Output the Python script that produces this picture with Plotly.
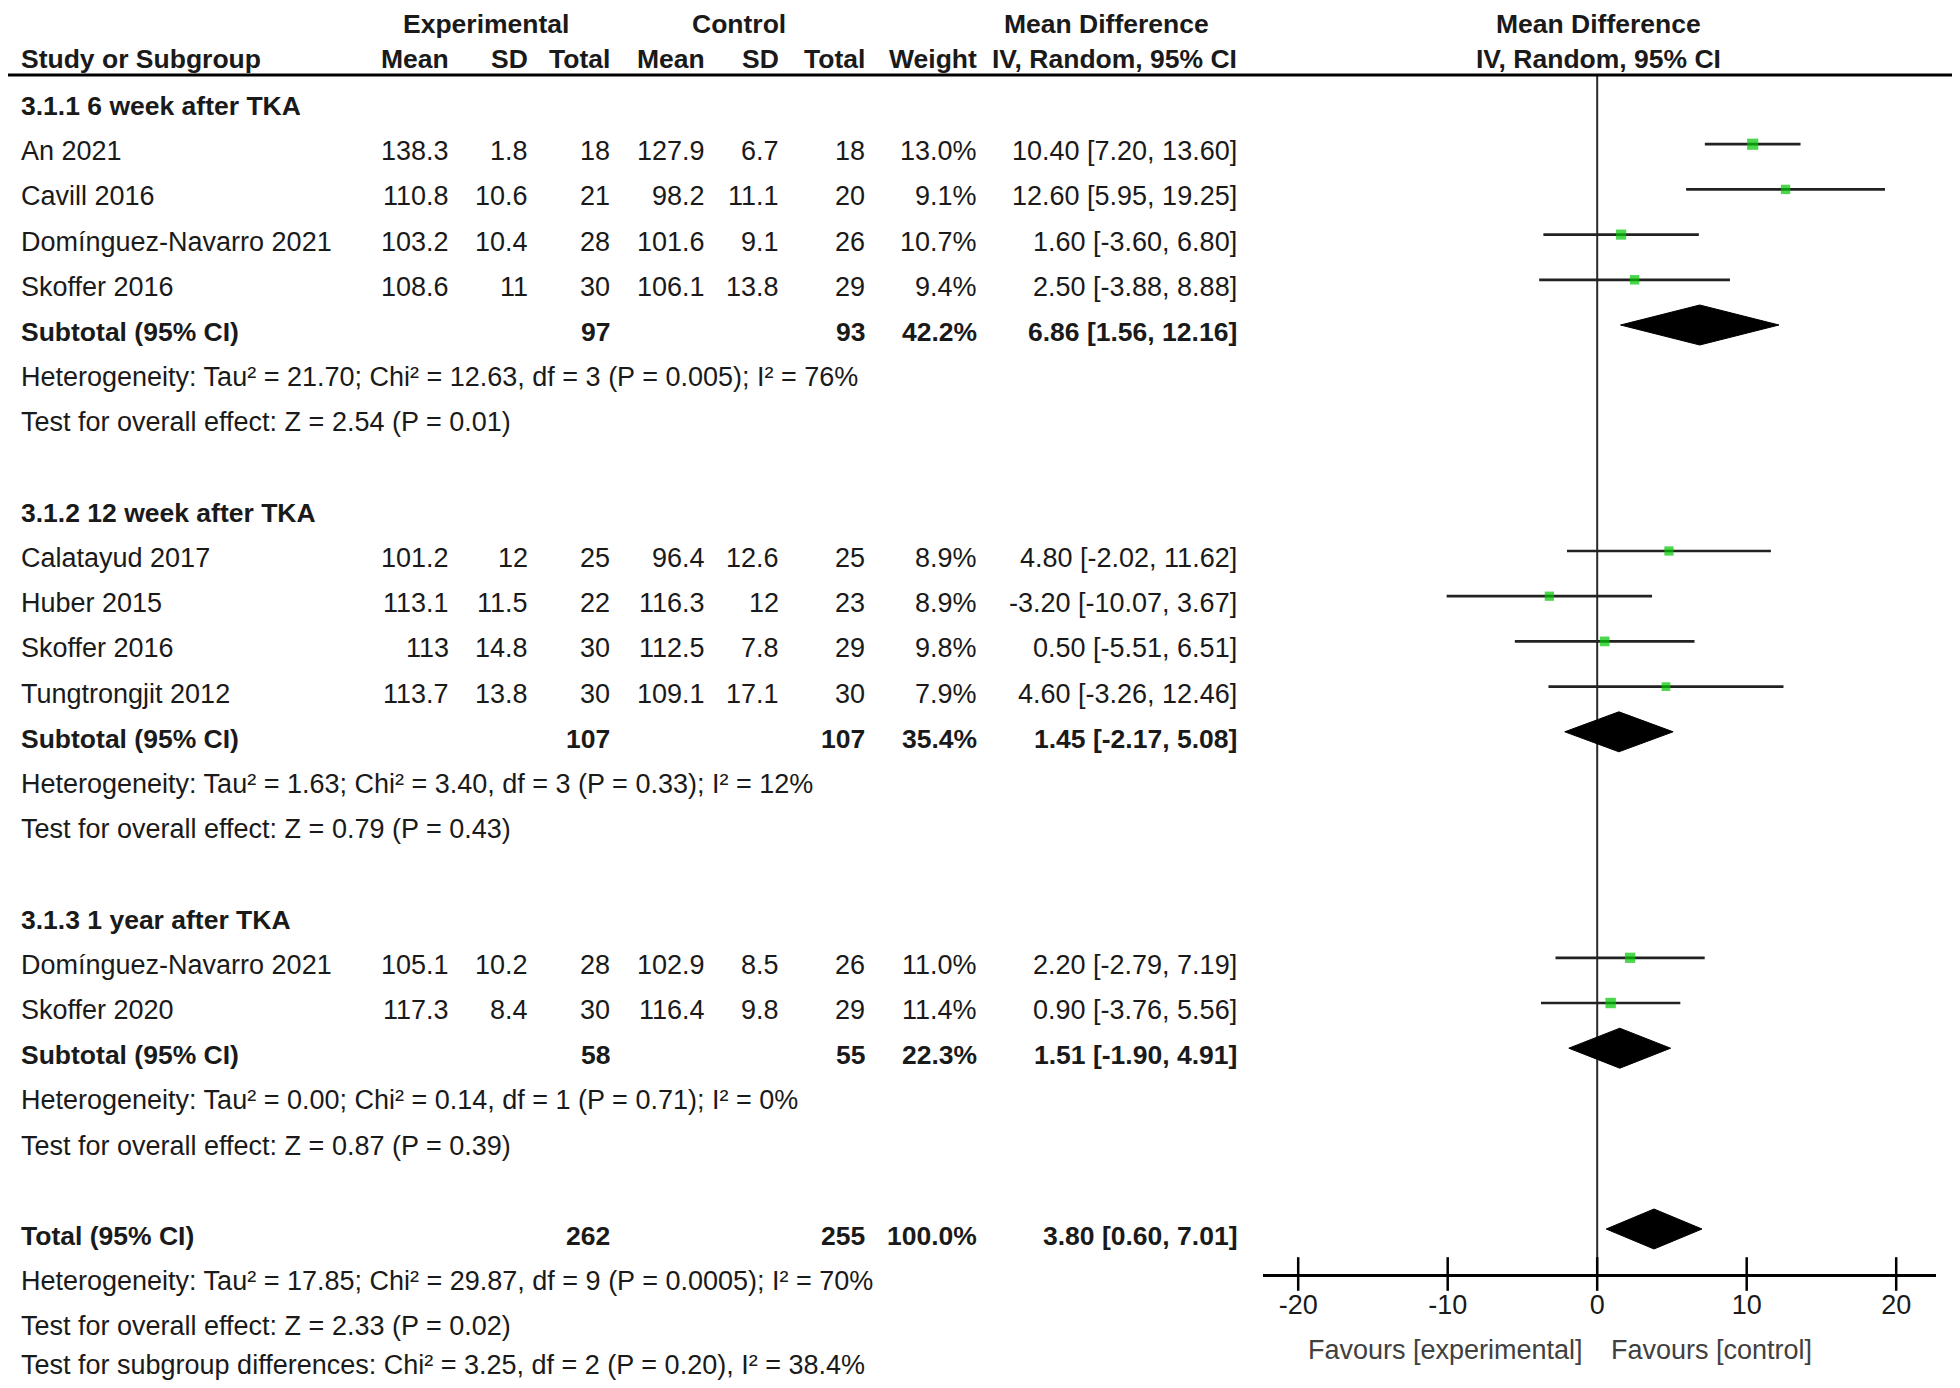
import math
import plotly.graph_objects as go

# ---------------- data ----------------
group_titles = ["3.1.1 6 week after TKA", "3.1.2 12 week after TKA", "3.1.3 1 year after TKA"]
study_names = [
    ["An 2021", "Cavill 2016", "Domínguez-Navarro 2021", "Skoffer 2016"],
    ["Calatayud 2017", "Huber 2015", "Skoffer 2016", "Tungtrongjit 2012"],
    ["Domínguez-Navarro 2021", "Skoffer 2020"],
]
exp_mean = [[138.3, 110.8, 103.2, 108.6], [101.2, 113.1, 113, 113.7], [105.1, 117.3]]
exp_sd = [[1.8, 10.6, 10.4, 11], [12, 11.5, 14.8, 13.8], [10.2, 8.4]]
exp_n = [[18, 21, 28, 30], [25, 22, 30, 30], [28, 30]]
ctl_mean = [[127.9, 98.2, 101.6, 106.1], [96.4, 116.3, 112.5, 109.1], [102.9, 116.4]]
ctl_sd = [[6.7, 11.1, 9.1, 13.8], [12.6, 12, 7.8, 17.1], [8.5, 9.8]]
ctl_n = [[18, 20, 26, 29], [25, 23, 29, 30], [26, 29]]
weights = [[13.0, 9.1, 10.7, 9.4], [8.9, 8.9, 9.8, 7.9], [11.0, 11.4]]
md = [[10.40, 12.60, 1.60, 2.50], [4.80, -3.20, 0.50, 4.60], [2.20, 0.90]]
md_lo = [[7.20, 5.95, -3.60, -3.88], [-2.02, -10.07, -5.51, -3.26], [-2.79, -3.76]]
md_hi = [[13.60, 19.25, 6.80, 8.88], [11.62, 3.67, 6.51, 12.46], [7.19, 5.56]]

sub_exp_n = [97, 107, 58]
sub_ctl_n = [93, 107, 55]
sub_weight = [42.2, 35.4, 22.3]
sub_md = [6.86, 1.45, 1.51]
sub_lo = [1.56, -2.17, -1.90]
sub_hi = [12.16, 5.08, 4.91]
sub_het = [
    "Heterogeneity: Tau² = 21.70; Chi² = 12.63, df = 3 (P = 0.005); I² = 76%",
    "Heterogeneity: Tau² = 1.63; Chi² = 3.40, df = 3 (P = 0.33); I² = 12%",
    "Heterogeneity: Tau² = 0.00; Chi² = 0.14, df = 1 (P = 0.71); I² = 0%",
]
sub_test = [
    "Test for overall effect: Z = 2.54 (P = 0.01)",
    "Test for overall effect: Z = 0.79 (P = 0.43)",
    "Test for overall effect: Z = 0.87 (P = 0.39)",
]
tot_exp_n = 262
tot_ctl_n = 255
tot_weight = 100.0
tot_md, tot_lo, tot_hi = 3.80, 0.60, 7.01
tot_lines = [
    "Heterogeneity: Tau² = 17.85; Chi² = 29.87, df = 9 (P = 0.0005); I² = 70%",
    "Test for overall effect: Z = 2.33 (P = 0.02)",
    "Test for subgroup differences: Chi² = 3.25, df = 2 (P = 0.20), I² = 38.4%",
]
axis_ticks = [-20, -10, 0, 10, 20]
header_top = ["Experimental", "Control", "Mean Difference"]
header_cols = ["Mean", "SD", "Total", "Mean", "SD", "Total", "Weight", "IV, Random, 95% CI"]
favours = ["Favours [experimental]", "Favours [control]"]

# ---------------- layout constants (reference pixel coordinates) ----------------
W, H = 1960, 1388
OFF = 8                      # default page margin of the html body
FW, FH = W - 2 * OFF, H - 2 * OFF
FONT = "Liberation Sans, Arial, Helvetica, sans-serif"
FS = 27
FSB = 26.5
TXT = "#1a1a1a"
col_right = [450, 529, 611, 706, 780, 866, 978, 1238]
study_left = 20
ROW0, STEP = 106, 45.2
MARK_OFF = -7
AX_Y = 1274
TOP_LINE = 75
GREEN = "#00c800"
LAST_ROW_Y = 1365


def pxx(px):
    return (px - OFF) / FW


def pxy(py):
    return 1 - (py - OFF) / FH


def rowy(i):
    return ROW0 + STEP * i


def fmt(v):
    return f"{v:g}"


def ci_text(m, lo, hi):
    return f"{m:.2f} [{lo:.2f}, {hi:.2f}]"


annotations = []


def add_text(px, py, text, anchor="left", bold=False, size=None, color=TXT, yanchor="middle"):
    if bold:
        text = f"<b>{text}</b>"
    if size is None:
        size = FSB if bold else FS
    annotations.append(dict(
        x=pxx(px), y=pxy(py) if yanchor == "middle" else 1.0, xref="paper", yref="paper",
        text=text, showarrow=False, xanchor=anchor, yanchor=yanchor, borderpad=0,
        font=dict(family=FONT, size=size, color=color),
    ))


# headers
add_text(486, 0, header_top[0], "center", bold=True, yanchor="top")
add_text(739, 0, header_top[1], "center", bold=True, yanchor="top")
add_text(1106, 0, header_top[2], "center", bold=True, yanchor="top")
add_text(1598, 0, header_top[2], "center", bold=True, yanchor="top")
add_text(study_left, 59, "Study or Subgroup", bold=True)
for cx, t in zip(col_right, header_cols):
    add_text(cx, 59, t, "right", bold=True)
add_text(1598, 59, header_cols[-1], "center", bold=True)

ci_x, ci_y = [], []
sq_x, sq_y, sq_size = [], [], []
diamonds = []

i = 0
for g in range(len(group_titles)):
    add_text(study_left, rowy(i), group_titles[g], bold=True)
    i += 1
    for k in range(len(study_names[g])):
        y = rowy(i)
        vals = [fmt(exp_mean[g][k]), fmt(exp_sd[g][k]), str(exp_n[g][k]),
                fmt(ctl_mean[g][k]), fmt(ctl_sd[g][k]), str(ctl_n[g][k]),
                f"{weights[g][k]:.1f}%", ci_text(md[g][k], md_lo[g][k], md_hi[g][k])]
        add_text(study_left, y, study_names[g][k])
        for cx, t in zip(col_right, vals):
            add_text(cx, y, t, "right")
        ci_x += [md_lo[g][k], md_hi[g][k], None]
        ci_y += [y + MARK_OFF, y + MARK_OFF, None]
        sq_x.append(md[g][k])
        sq_y.append(y + MARK_OFF)
        sq_size.append(3.1 * math.sqrt(weights[g][k]))
        i += 1
    y = rowy(i)
    add_text(study_left, y, "Subtotal (95% CI)", bold=True)
    add_text(col_right[2], y, str(sub_exp_n[g]), "right", bold=True)
    add_text(col_right[5], y, str(sub_ctl_n[g]), "right", bold=True)
    add_text(col_right[6], y, f"{sub_weight[g]:.1f}%", "right", bold=True)
    add_text(col_right[7], y, ci_text(sub_md[g], sub_lo[g], sub_hi[g]), "right", bold=True)
    diamonds.append((sub_md[g], sub_lo[g], sub_hi[g], y + MARK_OFF))
    i += 1
    add_text(study_left, rowy(i), sub_het[g])
    i += 1
    add_text(study_left, rowy(i), sub_test[g])
    i += 2

y = rowy(i)
add_text(study_left, y, "Total (95% CI)", bold=True)
add_text(col_right[2], y, str(tot_exp_n), "right", bold=True)
add_text(col_right[5], y, str(tot_ctl_n), "right", bold=True)
add_text(col_right[6], y, f"{tot_weight:.1f}%", "right", bold=True)
add_text(col_right[7], y, ci_text(tot_md, tot_lo, tot_hi), "right", bold=True)
diamonds.append((tot_md, tot_lo, tot_hi, y + MARK_OFF))
i += 1
for n_line, t in enumerate(tot_lines):
    yy = rowy(i) if n_line < len(tot_lines) - 1 else min(rowy(i), LAST_ROW_Y)
    add_text(study_left, yy, t)
    i += 1

# favours labels
for txt, anc, shift in [(favours[0], "right", -13), (favours[1], "left", 13)]:
    annotations.append(dict(x=0, xref="x", y=pxy(1350), yref="paper", text=txt,
                            showarrow=False, xanchor=anc, yanchor="middle", xshift=shift,
                            borderpad=0, font=dict(family=FONT, size=FS, color="#404040")))

fig = go.Figure()

# zero line
fig.add_trace(go.Scatter(x=[0, 0], y=[TOP_LINE, AX_Y], mode="lines",
                         line=dict(color="#2a2a2a", width=2), hoverinfo="skip", cliponaxis=False))
# CI lines
fig.add_trace(go.Scatter(x=ci_x, y=ci_y, mode="lines", line=dict(color="#222222", width=2.7),
                         hoverinfo="skip", cliponaxis=False))
# study markers
fig.add_trace(go.Scatter(x=sq_x, y=sq_y, mode="markers",
                         marker=dict(symbol="square", size=sq_size, color=GREEN,
                                     line=dict(width=0)),
                         hoverinfo="skip", cliponaxis=False))
# diamonds
for m, lo, hi, yc in diamonds:
    fig.add_trace(go.Scatter(x=[lo, m, hi, m, lo], y=[yc, yc - 20, yc, yc + 20, yc],
                             mode="lines", fill="toself", fillcolor="black",
                             line=dict(color="black", width=1), hoverinfo="skip", cliponaxis=False))
# axis tick crosses
fig.add_trace(go.Scatter(x=axis_ticks, y=[AX_Y] * len(axis_ticks), mode="markers",
                         marker=dict(symbol="line-ns", size=24, color="black",
                                     line=dict(color="black", width=2.5)),
                         hoverinfo="skip", cliponaxis=False))

x0px, x1px = 1263, 1936
zero_px, unit_px = 1597.2, 14.95
fig.update_layout(
    width=FW, height=FH,
    margin=dict(l=0, r=0, t=0, b=0),
    paper_bgcolor="white", plot_bgcolor="rgba(0,0,0,0)",
    showlegend=False,
    annotations=annotations,
    shapes=[dict(type="line", xref="paper", yref="paper", x0=0, x1=1,
                 y0=pxy(TOP_LINE), y1=pxy(TOP_LINE), line=dict(color="black", width=3))],
    xaxis=dict(domain=[pxx(x0px), pxx(x1px)],
               range=[(x0px - zero_px) / unit_px, (x1px - zero_px) / unit_px],
               showgrid=False, zeroline=False, showline=True, linecolor="black", linewidth=3,
               tickvals=axis_ticks, ticktext=[str(t) for t in axis_ticks], ticks="",
               ticklabelstandoff=5,
               tickfont=dict(family=FONT, size=FS, color=TXT), fixedrange=True),
    yaxis=dict(domain=[pxy(AX_Y), pxy(TOP_LINE)], range=[AX_Y, TOP_LINE], visible=False,
               fixedrange=True),
)

fig.write_html("out.html")
